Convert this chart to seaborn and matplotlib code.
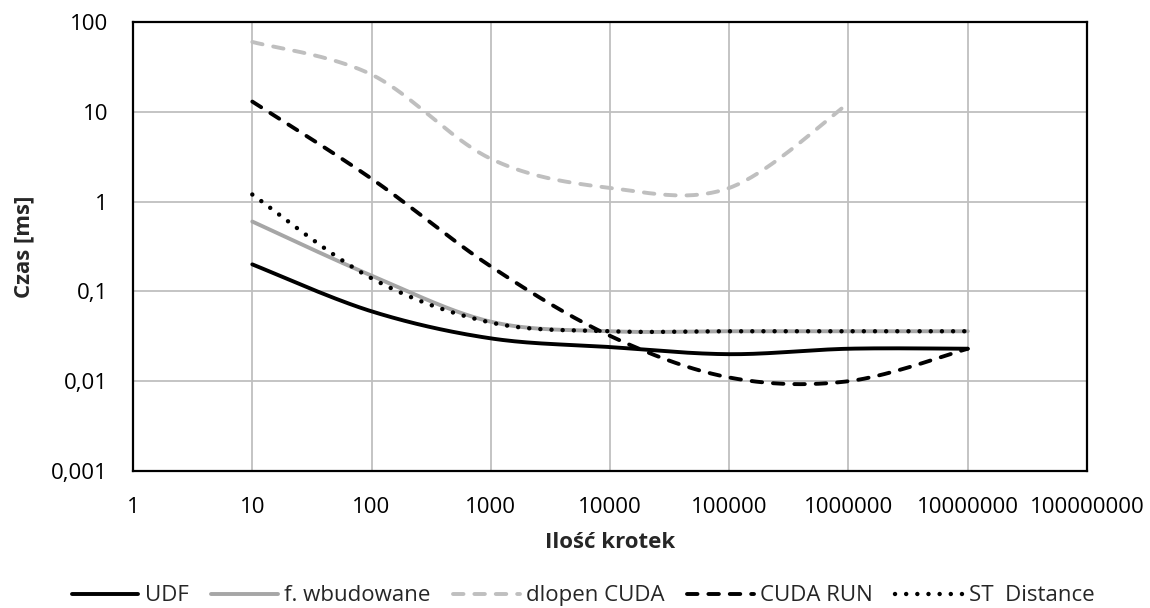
import numpy as np
import pandas as pd
import matplotlib
matplotlib.use('Agg')
import matplotlib.pyplot as plt
import seaborn as sns

# ── data ─────────────────────────────────────────────────────
n_krotek = [10, 100, 1000, 10000, 100000, 1000000, 10000000]
udf = [0.2, 0.06, 0.03, 0.024, 0.02, 0.023, 0.023]
f_wbudowane = [0.6, 0.15, 0.046, 0.036, 0.036, 0.036, 0.036]
dlopen_cuda = [60, 26, 3.0, 1.42, 1.42, 12.5]          # no value for 1e7
cuda_run = [13, 1.8, 0.19, 0.032, 0.011, 0.0100, 0.023]
st_distance = [1.2, 0.14, 0.045, 0.036, 0.036, 0.036, 0.036]

x_ticks = [1, 10, 100, 1000, 10000, 100000, 1000000, 10000000, 100000000]
y_ticks = [0.001, 0.01, 0.1, 1, 10, 100]
y_tick_labels = ['0,001', '0,01', '0,1', '1', '10', '100']


def smooth(xs, ys, steps=40):
    """Excel-like smoothed line (Catmull-Rom in log-log space)."""
    lx = np.log10(xs)
    ly = np.log10(ys)
    px = np.concatenate([[lx[0]], lx, [lx[-1]]])
    py = np.concatenate([[ly[0]], ly, [ly[-1]]])
    out_x, out_y = [], []
    for i in range(1, len(px) - 2):
        t = np.linspace(0, 1, steps, endpoint=False)
        for arr, out in ((px, out_x), (py, out_y)):
            p0, p1, p2, p3 = arr[i - 1], arr[i], arr[i + 1], arr[i + 2]
            m1 = (p2 - p0) / 2
            m2 = (p3 - p1) / 2
            h00 = 2 * t**3 - 3 * t**2 + 1
            h10 = t**3 - 2 * t**2 + t
            h01 = -2 * t**3 + 3 * t**2
            h11 = t**3 - t**2
            out.extend(h00 * p1 + h10 * m1 + h01 * p2 + h11 * m2)
    out_x.append(lx[-1])
    out_y.append(ly[-1])
    return 10 ** np.array(out_x), 10 ** np.array(out_y)


sns.set_theme(style='white')
plt.rcParams['font.family'] = ['Open Sans', 'DejaVu Sans']
FS = 16

fig = plt.figure(figsize=(11.5, 6.08), dpi=100)
ax = fig.add_axes([0.1157, 0.2253, 0.8295, 0.7385])

series = [
    ('UDF', udf, '#000000', '-', 2.8),
    ('f. wbudowane', f_wbudowane, '#A6A6A6', '-', 2.8),
    ('dlopen CUDA', dlopen_cuda, '#BFBFBF', (0, (2.7, 2.8)), 2.8),
    ('CUDA RUN', cuda_run, '#000000', (0, (2.7, 2.8)), 2.8),
    ('ST  Distance', st_distance, '#000000', (0, (0.01, 2.5)), 3.2),
]

for name, vals, col, ls, lw in series:
    sx, sy = smooth(n_krotek[:len(vals)], vals)
    df = pd.DataFrame({'x': sx, 'y': sy})
    sns.lineplot(data=df, x='x', y='y', ax=ax, sort=False,
                 estimator=None, color=col, lw=lw, label=name)
    ax.lines[-1].set_linestyle(ls)
    ax.lines[-1].set_dash_capstyle('round')
    ax.lines[-1].set_solid_capstyle('round')

ax.set_xscale('log')
ax.set_yscale('log')
ax.set_xlim(1, 1e8)
ax.set_ylim(0.001, 100)
ax.set_xticks(x_ticks, [str(v) for v in x_ticks])
ax.set_yticks(y_ticks, y_tick_labels)
ax.minorticks_off()
ax.tick_params(axis='x', length=0, pad=19, labelsize=FS, colors='#000000')
ax.tick_params(axis='y', length=0, pad=18, labelsize=FS, colors='#000000')
ax.grid(True, which='major', color='#BFBFBF', lw=1.3)
ax.set_axisbelow(True)
for sp in ax.spines.values():
    sp.set_color('#000000')
    sp.set_linewidth(1.6)

ax.set_xlabel('Ilość krotek', fontsize=FS, fontweight='bold', labelpad=10)
ax.set_ylabel('Czas [ms]', fontsize=FS, fontweight='bold', labelpad=12)

ax.legend(loc='lower center', bbox_to_anchor=(0.507, -0.012),
          bbox_transform=fig.transFigure, ncol=5, frameon=False,
          fontsize=FS, handlelength=3.0, handletextpad=0.3,
          columnspacing=1.0, borderaxespad=0)

fig.savefig('out.png', dpi=100)
